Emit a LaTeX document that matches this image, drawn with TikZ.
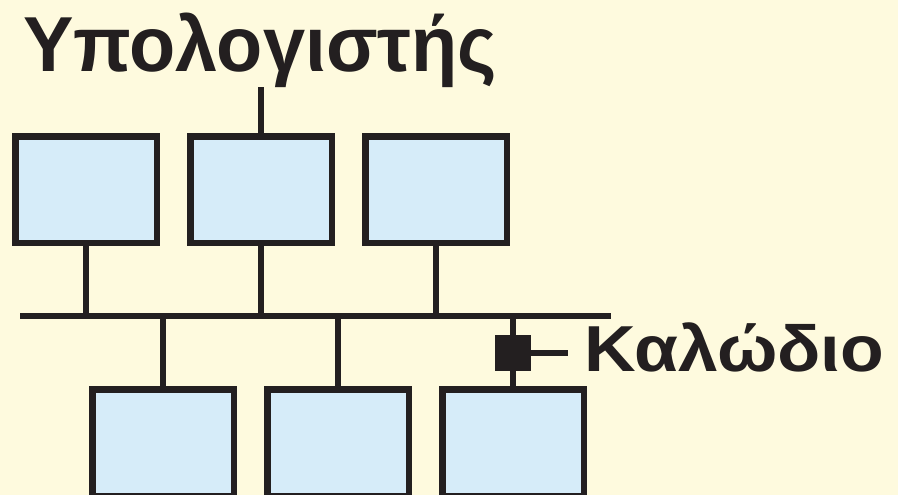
\documentclass[tikz,border=0pt]{standalone}
\usepackage{fontspec}
\setmainfont{Liberation Sans}
\usetikzlibrary{positioning}
\definecolor{paper}{RGB}{254,250,222}
\definecolor{screen}{RGB}{214,236,249}
\definecolor{ink}{RGB}{35,31,32}
\tikzset{
	pc/.style={draw=ink, fill=screen, line width=6.5pt, minimum width=141.5pt, minimum height=106.5pt, inner sep=0pt},
	wire/.style={draw=ink, line width=6pt},
	lbl/.style={text=ink, inner sep=0pt, anchor=base west, font=\bfseries},
}

\begin{document}
\begin{tikzpicture}[x=1pt,y=-1pt]
	\fill[paper] (0,0) rectangle (898,495);
	\useasboundingbox (0,0) rectangle (898,495);
	\begin{scope}
		\clip (0,0) rectangle (898,495);
		\node[pc] (c1) at (86,189.5) {};
		\node[pc, right=27pt of c1] (c2) {};
		\node[pc, right=27pt of c2] (c3) {};
		\node[pc] (c4) at (163,442.5) {};
		\node[pc, right=27pt of c4] (c5) {};
		\node[pc, right=27pt of c5] (c6) {};
	\end{scope}
	\coordinate (b1) at (20,316);
	\coordinate (b2) at (611,316);
	\node[lbl, font=\bfseries\fontsize{78}{80}\selectfont, xscale=0.97] (pc) at (23,72) {Υπολογιστής};
	\node[lbl, font=\bfseries\fontsize{65}{68}\selectfont, xscale=1.1] (cab) at (584,371) {Καλώδιο};
	\node[fill=ink, minimum size=36pt, inner sep=0pt] (t) at (c6.north |- 0,352.5) {};
	\coordinate[above=46pt of c2.north] (up);
	\coordinate[right=37pt of t.east] (s);

	\draw[wire] (b1) -- (b2);
	\draw[wire] (c2.north) -- (up);
	\foreach \c in {c1,c2,c3} {
		\draw[wire] (\c.south) -- (\c.south |- b1);
	}
	\foreach \c in {c4,c5,c6} {
		\draw[wire] (\c.north) -- (\c.north |- b1);
	}
	\draw[wire] (t.east) -- (s);
\end{tikzpicture}
\end{document}
